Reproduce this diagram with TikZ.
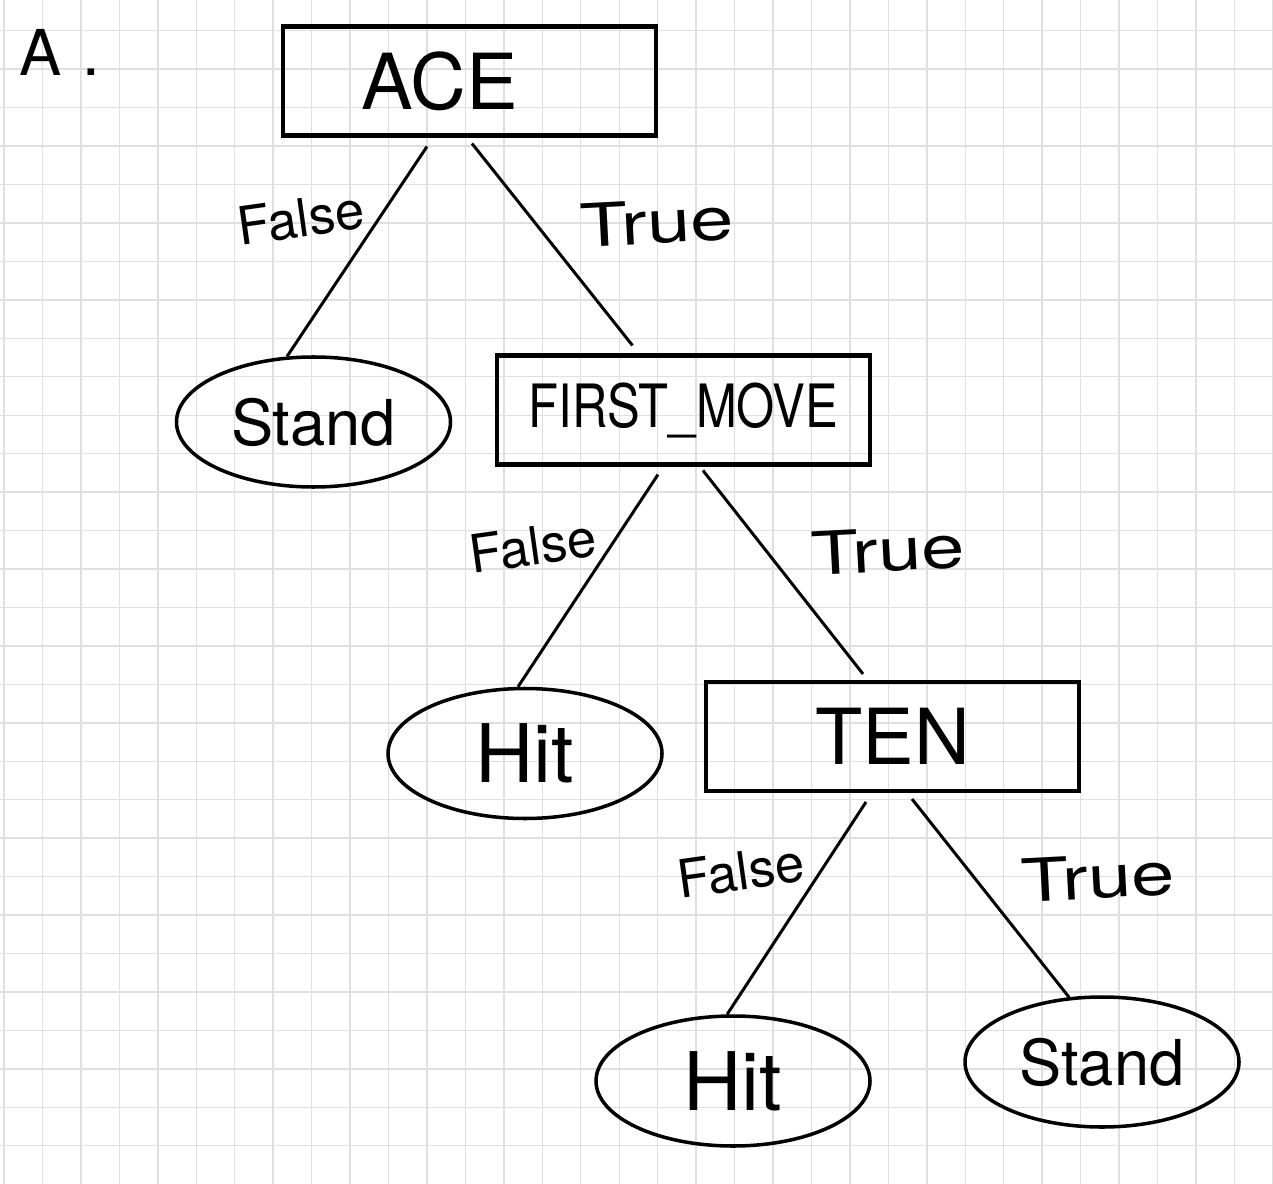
\documentclass[tikz,border=0pt]{standalone}
\usepackage{fontspec}
\setmainfont{TeX Gyre Heros}
\usetikzlibrary{shapes.geometric}

\tikzset{
  gridline/.style={gray!25, line width=0.4pt},
  testbox/.style={draw, line width=1.15pt, minimum width=3.73cm, minimum height=1.09cm, inner sep=0pt},
  leafnode/.style={draw, ellipse, line width=1pt, minimum width=2.74cm, minimum height=1.3cm, inner sep=0pt, font=\fontsize{18}{21}\selectfont},
  branch/.style={line width=0.85pt},
  falselbl/.style={font=\fontsize{15}{18}\selectfont, rotate=8},
  truelbl/.style={font=\fontsize{17}{20}\selectfont, rotate=3}
}

\begin{document}
\begin{tikzpicture}
    % paper
    \fill[white] (0,0) rectangle (12.73,-11.84);
    \useasboundingbox (0,0) rectangle (12.73,-11.84);
    \foreach \i in {0,...,33}
        \draw[gridline] ({0.04+0.3845*\i},0) -- ++(0,-11.84);
    \foreach \j in {0,...,29}
        \draw[gridline] (0,{-0.307-0.3845*\j}) -- ++(12.73,0);

    \node[font=\fontsize{18}{21}\selectfont] (part) at (0.6,-0.52) {A\,\,.};

    % tests
    \node[testbox, font=\fontsize{22}{26}\selectfont] (ace) at (4.695,-0.81) {ACE\hspace*{0.6cm}};
    \node[testbox, font=\fontsize{17}{20}\selectfont] (firstmove) at (6.835,-4.10) {\scalebox{0.82}[1]{FIRST\_MOVE}};
    \node[testbox, font=\fontsize{22}{26}\selectfont] (ten) at (8.925,-7.365) {TEN};

    % leaves
    \node[leafnode] (stand1) at (3.135,-4.22) {Stand};
    \node[leafnode, font=\fontsize{23}{26}\selectfont] (hit1) at (5.25,-7.535) {Hit};
    \node[leafnode, font=\fontsize{23}{26}\selectfont] (hit2) at (7.33,-10.81) {Hit};
    \node[leafnode] (stand2) at (11.02,-10.62) {Stand};

    % branches
    \draw[branch] ([xshift=-0.425cm,yshift=-0.09cm]ace.south) -- (stand1.112);
    \draw[branch] ([xshift=0.025cm,yshift=-0.06cm]ace.south) -- ([xshift=-0.51cm,yshift=0.08cm]firstmove.north);
    \draw[branch] ([xshift=-0.255cm,yshift=-0.08cm]firstmove.south) -- (hit1.96);
    \draw[branch] ([xshift=0.195cm,yshift=-0.04cm]firstmove.south) -- ([xshift=-0.295cm,yshift=0.06cm]ten.north);
    \draw[branch] ([xshift=-0.265cm,yshift=-0.09cm]ten.south) -- (hit2.95);
    \draw[branch] ([xshift=0.195cm,yshift=-0.06cm]ten.south) -- (stand2.117);

    % branch labels
    \node[falselbl] (f1) at (3.01,-2.18) {False};
    \node[truelbl] (t1) at (6.57,-2.22) {\scalebox{1.3}[1]{True}};
    \node[falselbl] (f2) at (5.33,-5.46) {False};
    \node[truelbl] (t2) at (8.88,-5.50) {\scalebox{1.3}[1]{True}};
    \node[falselbl] (f3) at (7.41,-8.71) {False};
    \node[truelbl] (t3) at (10.98,-8.77) {\scalebox{1.3}[1]{True}};
\end{tikzpicture}
\end{document}
